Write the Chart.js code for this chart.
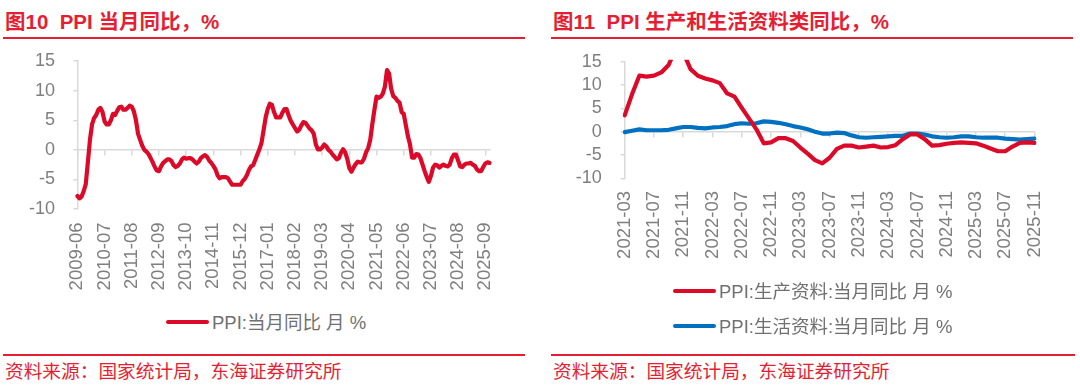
<!DOCTYPE html>
<html>
<head>
<meta charset="UTF-8">
<title>PPI 当月同比</title>
<script src="https://cdn.jsdelivr.net/npm/chart.js@4.4.1/dist/chart.umd.min.js"></script>
<style>
    body { margin: 0; width: 1080px; height: 385px; background: #fff; position: relative; overflow: hidden;
           font-family: 'Liberation Sans', 'Noto Sans CJK SC', sans-serif; }
    .title { position: absolute; top: 9px; font-size: 20.5px; font-weight: bold; color: #e61e32; white-space: pre; line-height: 25px; }
    .rule { position: absolute; height: 2px; background: #e61e32; }
    .source { position: absolute; top: 359px; font-size: 18.7px; color: #e61e32; line-height: 25px; white-space: pre; }
    .box { position: absolute; top: 26px; width: 540px; height: 274px; }
    .legend { position: absolute; font-size: 18.5px; color: #707070; line-height: 24px; white-space: pre; }
    .legend i { display: inline-block; width: 43px; height: 4px; border-radius: 2px; vertical-align: middle; margin-right: 3px; position: relative; top: -2px; }
</style>
</head>
<body>
<div class="title" style="left:5px">图10  PPI 当月同比，%</div>
<div class="rule" style="left:3px; width:522px; top:37px"></div>
<div class="title" style="left:553px">图11  PPI 生产和生活资料类同比，%</div>
<div class="rule" style="left:551px; width:522px; top:37px"></div>

<div class="box" style="left:0"><canvas id="c10" width="540" height="274"></canvas></div>
<div class="box" style="left:540px"><canvas id="c11" width="540" height="274"></canvas></div>

<div class="legend" style="left:166px; top:311px"><i style="background:#dc0a28"></i>PPI:当月同比 月 %</div>
<div class="legend" style="left:673px; top:280px"><i style="background:#dc0a28"></i>PPI:生产资料:当月同比 月 %</div>
<div class="legend" style="left:673px; top:315px"><i style="background:#0070c0"></i>PPI:生活资料:当月同比 月 %</div>

<div class="rule" style="left:3px; width:522px; top:354px"></div>
<div class="source" style="left:5px">资料来源：国家统计局，东海证券研究所</div>
<div class="rule" style="left:551px; width:524px; top:354px"></div>
<div class="source" style="left:553px">资料来源：国家统计局，东海证券研究所</div>

<script>
    function monthRange(y0, m0, y1, m1) {
        let out = [];
        for (let y = y0, m = m0; y < y1 || (y === y1 && m <= m1); m++) {
            if (m > 12) { m = 1; y++; if (y > y1) break; }
            out.push(y + '-' + String(m).padStart(2, '0'));
        }
        return out;
    }

    // 图10: PPI 当月同比, 2009-06 .. 2025-11
    const months10 = monthRange(2009, 6, 2025, 11);
    const ticks10 = ['2009-06', '2010-07', '2011-08', '2012-09', '2013-10', '2014-11', '2015-12', '2017-01',
        '2018-02', '2019-03', '2020-04', '2021-05', '2022-06', '2023-07', '2024-08', '2025-09'];
    const ppi = [
        -7.8, -8.2, -7.9, -7.0, -5.8, -2.1, 1.7,
        4.3, 5.4, 5.9, 6.8, 7.1, 6.4, 4.8, 4.3, 4.3, 5.0, 6.1, 5.9,
        6.6, 7.2, 7.3, 6.8, 6.8, 7.1, 7.5, 7.3, 6.5, 5.0, 2.7, 1.7,
        0.7, 0.0, -0.3, -0.7, -1.4, -2.1, -2.9, -3.5, -3.6, -2.8, -2.2, -1.9,
        -1.6, -1.6, -1.9, -2.6, -2.9, -2.7, -2.3, -1.6, -1.3, -1.5, -1.4, -1.4,
        -1.6, -2.0, -2.3, -2.0, -1.4, -1.1, -0.9, -1.2, -1.8, -2.2, -2.7, -3.3,
        -4.3, -4.8, -4.6, -4.6, -4.6, -4.8, -5.4, -5.9, -5.9, -5.9, -5.9, -5.9,
        -5.3, -4.9, -4.3, -3.4, -2.8, -2.6, -1.7, -0.8, 0.1, 1.2, 3.3, 5.5,
        6.9, 7.8, 7.6, 6.4, 5.5, 5.5, 5.5, 6.3, 6.9, 6.9, 5.8, 4.9,
        4.3, 3.7, 3.1, 3.4, 4.1, 4.7, 4.6, 4.1, 3.6, 3.3, 2.7, 0.9,
        0.1, 0.1, 0.4, 0.9, 0.6, 0.0, -0.3, -0.8, -1.2, -1.6, -1.4, -0.5,
        0.1, -0.4, -1.5, -3.1, -3.7, -3.0, -2.4, -2.0, -2.1, -2.1, -1.5, -0.4,
        0.3, 1.7, 4.4, 6.8, 9.0, 8.8, 9.0, 9.5, 10.7, 13.5, 12.9, 10.3,
        9.1, 8.8, 8.3, 8.0, 6.4, 6.1, 4.2, 2.3, 0.9, -1.3, -1.3, -0.7,
        -0.8, -1.4, -2.5, -3.6, -4.6, -5.4, -4.4, -3.0, -2.5, -2.6, -3.0, -2.7,
        -2.5, -2.7, -2.8, -2.5, -1.4, -0.8, -0.8, -1.8, -2.8, -2.9, -2.5, -2.3,
        -2.3, -2.2, -2.5, -2.7, -3.3, -3.6, -3.6, -2.9, -2.3, -2.1, -2.2
    ];

    // 图11: 生产资料 / 生活资料 当月同比, 2021-03 .. 2025-11
    const months11 = monthRange(2021, 3, 2025, 11);
    const ticks11 = ['2021-03', '2021-07', '2021-11', '2022-03', '2022-07', '2022-11', '2023-03', '2023-07',
        '2023-11', '2024-03', '2024-07', '2024-11', '2025-03', '2025-07', '2025-11'];
    const producer = [
        3.5, 8.0, 12.0, 11.8, 12.0, 12.7, 14.3, 17.9, 17.0, 13.4,
        12.0, 11.4, 11.0, 10.4, 8.2, 7.5, 5.1, 2.8, 0.5, -2.5, -2.3, -1.4,
        -1.4, -2.0, -3.4, -4.7, -6.1, -6.8, -5.6, -3.7, -3.0, -3.0, -3.4, -3.2,
        -3.0, -3.4, -3.3, -2.9, -1.6, -0.6, -0.6, -1.6, -3.0, -2.9, -2.6, -2.4,
        -2.3, -2.4, -2.5, -3.0, -3.6, -4.2, -4.2, -3.2, -2.4, -2.3, -2.4
    ];
    const consumer = [
        -0.1, 0.2, 0.5, 0.3, 0.3, 0.3, 0.4, 0.7, 1.0, 1.0,
        0.8, 0.7, 0.9, 1.0, 1.2, 1.6, 1.8, 1.7, 1.8, 2.2, 2.1, 1.9,
        1.6, 1.2, 0.9, 0.5, 0.0, -0.4, -0.4, -0.2, -0.3, -0.8, -1.2, -1.3,
        -1.2, -1.1, -1.0, -0.9, -0.9, -0.4, -0.4, -0.6, -1.0, -1.2, -1.3, -1.2,
        -1.0, -1.0, -1.2, -1.3, -1.3, -1.3, -1.5, -1.6, -1.7, -1.6, -1.5
    ];

    const RED = '#dc0a28';
    const BLUE = '#0070c0';
    const GREY = '#7f7f7f';
    const AXIS = '#d9d9d9';
    const FONT = "'Liberation Sans', 'Noto Sans CJK SC', sans-serif";

    function buildChart(id, labels, tickLabels, datasets, g) {
        const shown = new Set(tickLabels);
        return new Chart(document.getElementById(id), {
            type: 'line',
            data: { labels: labels, datasets: datasets },
            options: {
                responsive: false,
                animation: false,
                devicePixelRatio: 1,
                layout: { padding: { top: g.top, right: g.right, bottom: 0, left: 0 } },
                plugins: { legend: { display: false }, tooltip: { enabled: false } },
                elements: {
                    point: { radius: 0 },
                    line: { borderWidth: 4.2, tension: 0, borderCapStyle: 'round', borderJoinStyle: 'round' }
                },
                scales: {
                    x: {
                        type: 'category',
                        offset: false,
                        grid: { display: false, drawTicks: false },
                        border: { display: false },
                        ticks: {
                            autoSkip: false, minRotation: 90, maxRotation: 90, padding: g.labelPad,
                            color: GREY, font: { family: FONT, size: 18.5 },
                            callback: (v, i) => shown.has(labels[i]) ? labels[i] : null
                        },
                        afterFit: s => { s.height = g.xHeight; }
                    },
                    zero: {
                        type: 'category',
                        axis: 'x',
                        position: { y: 0 },
                        offset: false,
                        grid: {
                            drawOnChartArea: false, drawTicks: true, tickLength: 5, lineWidth: 1.5, color: AXIS,
                            tickColor: c => shown.has(labels[c.index]) ? AXIS : 'rgba(0,0,0,0)'
                        },
                        border: { display: true, color: AXIS, width: 1.5 },
                        ticks: { display: false, autoSkip: false }
                    },
                    y: {
                        min: -10,
                        max: 15,
                        ticks: { stepSize: 5, autoSkip: false, padding: g.yPad, color: GREY, font: { family: FONT, size: 18 } },
                        grid: { drawOnChartArea: false, drawTicks: true, tickLength: 4, color: AXIS, lineWidth: 1.5 },
                        border: { display: true, color: AXIS, width: 1.5 },
                        afterFit: s => { s.width = g.yWidth; }
                    }
                }
            }
        });
    }

    // canvases start at y=26; chart areas: left 61.2..209, right 61.7..178.3
    buildChart('c10', months10, ticks10, [
        { label: 'PPI:当月同比 月 %', data: ppi, borderColor: RED, backgroundColor: RED, clip: 3 }
    ], { top: 35.2, right: 50.5, yWidth: 77.4, xHeight: 91, labelPad: 13.5, yPad: 18.4 });

    buildChart('c11', months11, ticks11, [
        { label: 'PPI:生产资料:当月同比 月 %', data: producer, borderColor: RED, backgroundColor: RED, clip: 2 },
        { label: 'PPI:生活资料:当月同比 月 %', data: consumer, borderColor: BLUE, backgroundColor: BLUE, clip: 2 }
    ], { top: 35.7, right: 45.5, yWidth: 84.7, xHeight: 121.7, labelPad: 12.7, yPad: 19 });
</script>
</body>
</html>
